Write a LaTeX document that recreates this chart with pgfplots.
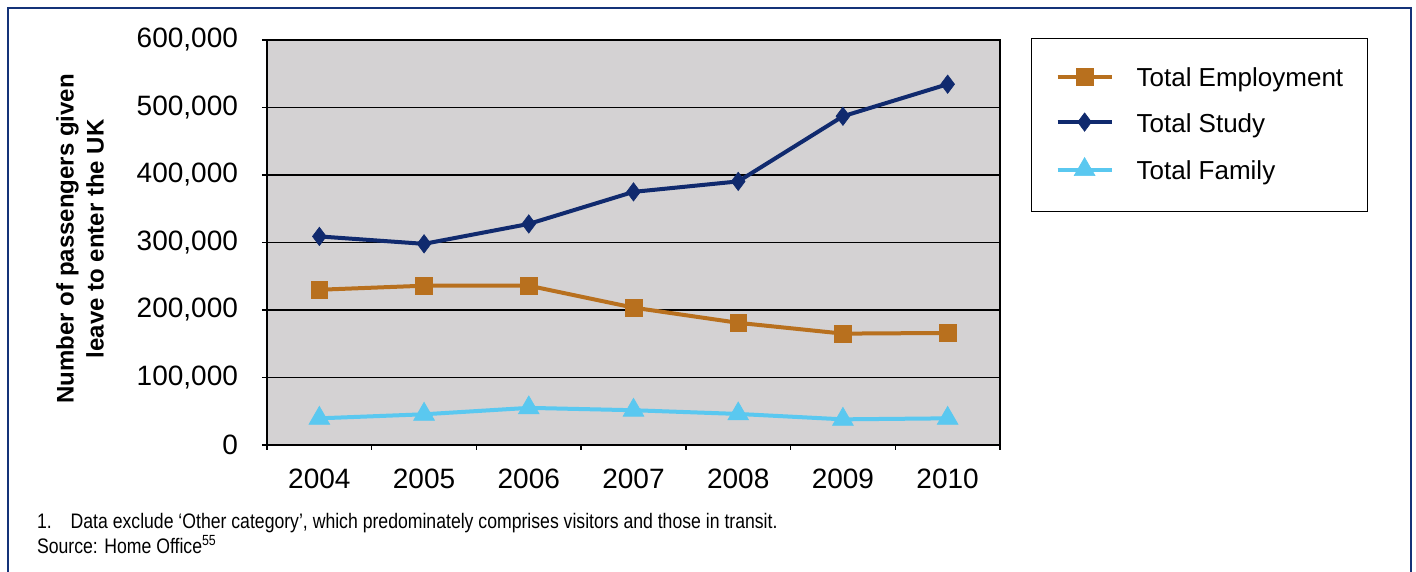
\documentclass[border=0pt]{standalone}
\usepackage{pgfplots}
\pgfplotsset{compat=1.18}
\usepackage{fontspec}
\setmainfont{Liberation Sans}
\newfontfamily\cond{Liberation Sans}[FakeStretch=0.84]
\definecolor{empc}{RGB}{184,112,30}
\definecolor{stuc}{RGB}{16,42,110}
\definecolor{famc}{RGB}{90,200,240}
\definecolor{bgg}{RGB}{212,210,211}
\definecolor{framec}{RGB}{20,50,120}
\begin{document}
\begin{tikzpicture}
\useasboundingbox (0,0) rectangle (708bp,286bp);
\fill[white] (0,0) rectangle (708bp,286bp);
\draw[framec, line width=1bp] (4bp,0) -- (4bp,282bp) -- (705.5bp,282bp) -- (705.5bp,0);
\begin{axis}[
  at={(133.5bp,63.5bp)}, anchor=south west,
  scale only axis, width=366.5bp, height=202.5bp,
  xmin=-0.5, xmax=6.5, ymin=0, ymax=600000,
  xtick={-0.5,0.5,...,6.5},
  x tick label as interval,
  xticklabels={2004,2005,2006,2007,2008,2009,2010},
  ytick={0,100000,200000,300000,400000,500000,600000},
  yticklabels={0,{100,000},{200,000},{300,000},{400,000},{500,000},{600,000}},
  scaled y ticks=false,
  xtick pos=bottom, ytick pos=left,
  ymajorgrids,
  grid style={black, line width=0.7bp},
  axis line style={black, line width=1bp},
  axis background/.style={fill=bgg},
  tick align=outside, major tick length=2.5bp,
  tick style={black, line width=0.7bp},
  ticklabel style={font=\fontsize{14bp}{16bp}\selectfont},
  xticklabel style={yshift=-6bp},
  yticklabel style={xshift=-8.5bp},
  ylabel={Number of passengers given\\leave to enter the UK},
  every axis y label/.style={at={(axis description cs:-0.255,0.509)}, rotate=90, anchor=center, align=center, font=\bfseries\fontsize{12bp}{15bp}\selectfont},
  legend style={at={(axis description cs:1.0423,1.005)}, anchor=north west,
    draw=black, line width=0.6bp, fill=white,
    font=\fontsize{13bp}{15.6bp}\selectfont,
    inner xsep=12bp, inner ysep=14bp, row sep=10.75bp,
    nodes={inner sep=0pt, minimum height=12bp},
    /tikz/every odd column/.append style={column sep=11.5bp}},
  legend cell align=left,
  legend image code/.code={\draw[#1, mark repeat=2, mark phase=2] plot coordinates {(0bp,1bp) (13.5bp,1bp) (27bp,1bp)};},
  every axis plot/.append style={line width=2bp},
]
\addplot[empc, mark=square*, mark size=4.2bp, mark options={solid, line width=0.3bp}] coordinates {
 (0,230000) (1,236000) (2,236000) (3,203500) (4,181000) (5,165000) (6,166000)};
\addlegendentry{Total Employment}
\addplot[stuc, mark=diamond*, mark size=4.6bp, mark options={solid, line width=0.3bp}] coordinates {
 (0,309000) (1,298000) (2,327500) (3,375000) (4,390500) (5,487000) (6,534500)};
\addlegendentry{Total Study}
\addplot[famc, mark=triangle*, mark size=6bp, mark options={solid, line width=0.3bp}] coordinates {
 (0,39500) (1,45500) (2,55000) (3,51500) (4,46000) (5,38000) (6,39500)};
\addlegendentry{Total Family}
\end{axis}
\node[anchor=base west, font=\cond\fontsize{10.5bp}{12bp}\selectfont] at (15bp,22bp) {1.\hspace{0.9em}Data exclude ‘Other category’, which predominately comprises visitors and those in transit.};
\node[anchor=base west, font=\cond\fontsize{10.5bp}{12bp}\selectfont] at (15bp,9.5bp) {Source: Home Office\textsuperscript{55}};
\end{tikzpicture}
\end{document}
